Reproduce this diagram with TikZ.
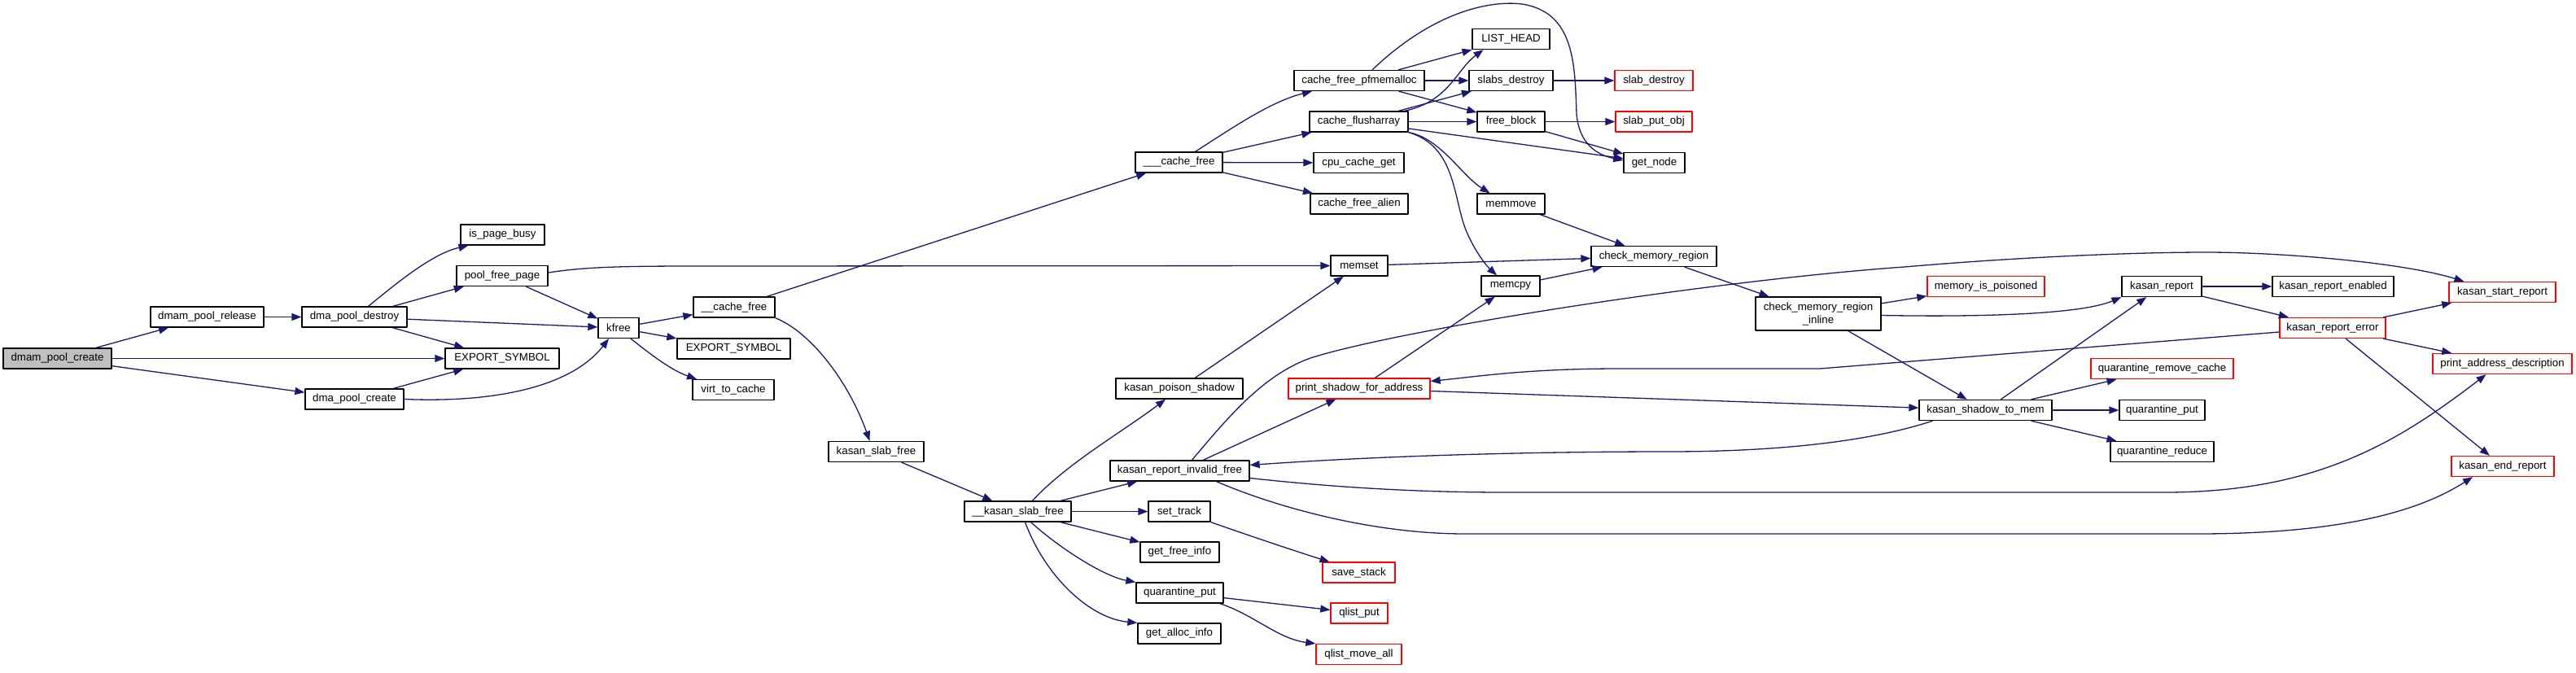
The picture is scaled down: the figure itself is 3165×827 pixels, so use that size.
\documentclass[tikz,border=0pt]{standalone}
\usepackage{fontspec}
\setmainfont{Liberation Sans}
\usetikzlibrary{arrows.meta}
\definecolor{edgeblue}{HTML}{191970}
\definecolor{rootgray}{HTML}{BFBFBF}

\begin{document}
\begin{tikzpicture}[x=1pt, y=-1pt, line join=round,
    fnbox/.style={draw=black, line width=1.3pt, inner sep=0pt, minimum height=25pt,
                  font=\fontsize{13.3}{16}\selectfont},
    cutbox/.style={fnbox, draw=red},
    callarr/.style={draw=edgeblue, line width=1.3pt,
                    -{Triangle[length=12pt, width=9pt]}, fill=none}]

  %% ════ 节点（中心坐标，像素系，y 向下）════
  \node[fnbox, fill=rootgray, minimum width=133pt] (dmamcreate) at (70.5,440.5) {dmam\_pool\_create};
  \node[fnbox, minimum width=139pt] (dmamrelease) at (254.5,389.5) {dmam\_pool\_release};
  \node[fnbox, minimum width=129pt] (dmadestroy) at (435.5,389.5) {dma\_pool\_destroy};
  \node[fnbox, minimum width=121pt] (dmacreate) at (435.5,490.5) {dma\_pool\_create};
  \node[fnbox, minimum width=103pt] (pagebusy) at (617.5,288.5) {is\_page\_busy};
  \node[fnbox, minimum width=112pt] (freepage) at (617,339) {pool\_free\_page};
  \node[fnbox, minimum width=140pt] (exportA) at (617,440.5) {EXPORT\_SYMBOL};
  \node[fnbox, minimum width=50pt] (kfree) at (760,403) {kfree};
  \node[fnbox, minimum width=100pt] (cachefreeB) at (902,377.5) {\_\_cache\_free};
  \node[fnbox, minimum width=139pt] (exportB) at (901.5,428.5) {EXPORT\_SYMBOL};
  \node[fnbox, minimum width=100pt] (virtcache) at (901,479) {virt\_to\_cache};
  \node[fnbox, minimum width=117pt] (kslabfree) at (1076.5,555) {kasan\_slab\_free};
  \node[fnbox, minimum width=107pt] (cachefreeA) at (1448.5,199.5) {\_\_\_cache\_free};
  \node[fnbox, minimum width=131pt] (kksfree) at (1250.5,628.5) {\_\_kasan\_slab\_free};

  % 第二列：slab 一侧
  \node[fnbox, minimum width=160pt] (pfmemalloc) at (1670,99) {cache\_free\_pfmemalloc};
  \node[fnbox, minimum width=121pt] (flusharray) at (1669.5,149.5) {cache\_flusharray};
  \node[fnbox, minimum width=111pt] (cpucache) at (1669.5,200) {cpu\_cache\_get};
  \node[fnbox, minimum width=120pt] (freealien) at (1670,250.5) {cache\_free\_alien};
  \node[fnbox, minimum width=70pt] (memset) at (1670,326.5) {memset};
  \node[cutbox, minimum width=174pt] (shadowaddr) at (1670,477.5) {print\_shadow\_for\_address};
  \node[cutbox, minimum width=89pt] (savestack) at (1669.5,703.5) {save\_stack};
  \node[cutbox, minimum width=70pt] (qlistput) at (1670,753.5) {qlist\_put};
  \node[cutbox, minimum width=105pt] (qlistmove) at (1669.5,804) {qlist\_move\_all};

  % kasan 一侧
  \node[fnbox, minimum width=156pt] (poison) at (1449,477.5) {kasan\_poison\_shadow};
  \node[fnbox, minimum width=171pt] (invalidfree) at (1449.5,578.5) {kasan\_report\_invalid\_free};
  \node[fnbox, minimum width=76pt] (settrack) at (1449,628.5) {set\_track};
  \node[fnbox, minimum width=97pt] (freeinfo) at (1449.5,678.5) {get\_free\_info};
  \node[fnbox, minimum width=107pt] (qputA) at (1449.5,728.5) {quarantine\_put};
  \node[fnbox, minimum width=102pt] (allocinfo) at (1449,778.5) {get\_alloc\_info};

  \node[fnbox, minimum width=95pt] (listhead) at (1856.5,48) {LIST\_HEAD};
  \node[fnbox, minimum width=103pt] (slabsdestroy) at (1856.5,99) {slabs\_destroy};
  \node[fnbox, minimum width=83pt] (freeblock) at (1856.5,149.5) {free\_block};
  \node[fnbox, minimum width=83pt] (memmove) at (1856.5,250.5) {memmove};
  \node[fnbox, minimum width=72pt] (memcpy) at (1856,351.5) {memcpy};

  \node[cutbox, minimum width=96pt] (slabdestroy) at (2032,99) {slab\_destroy};
  \node[cutbox, minimum width=94pt] (slabputobj) at (2032,149.5) {slab\_put\_obj};
  \node[fnbox, minimum width=75pt] (getnode) at (2032.5,200) {get\_node};
  \node[fnbox, minimum width=154pt] (checkregion) at (2032,315) {check\_memory\_region};
  \node[fnbox, minimum width=154pt, minimum height=41pt, align=center] (checkinline) at (2234,385.5)
       {check\_memory\_region\\\_inline};

  \node[cutbox, minimum width=144pt] (poisoned) at (2440,352) {memory\_is\_poisoned};
  \node[fnbox, minimum width=163pt] (shadowtomem) at (2439.5,504) {kasan\_shadow\_to\_mem};
  \node[fnbox, minimum width=98pt] (kreport) at (2656,352) {kasan\_report};
  \node[cutbox, minimum width=175pt] (qremove) at (2656.5,453) {quarantine\_remove\_cache};
  \node[fnbox, minimum width=105pt] (qputB) at (2656.5,504) {quarantine\_put};
  \node[fnbox, minimum width=127pt] (qreduce) at (2656.5,555) {quarantine\_reduce};
  \node[fnbox, minimum width=149pt] (reportenabled) at (2866.5,352) {kasan\_report\_enabled};
  \node[cutbox, minimum width=130pt] (reporterror) at (2866,403) {kasan\_report\_error};
  \node[cutbox, minimum width=131pt] (startreport) at (3074.5,359) {kasan\_start\_report};
  \node[cutbox, minimum width=171pt] (addrdesc) at (3074.5,447) {print\_address\_description};
  \node[cutbox, minimum width=126pt] (endreport) at (3075,573) {kasan\_end\_report};

  %% ════ 调用边：dma pool 部分 ════
  \draw[callarr] (dmamcreate) -- (dmamrelease);
  \draw[callarr] (dmamcreate) -- (exportA);
  \draw[callarr] (dmamcreate) -- (dmacreate);
  \draw[callarr] (dmamrelease) -- (dmadestroy);
  \draw[callarr] ([xshift=17pt]dmadestroy.north) .. controls (485,350) and (530,312) .. ([xshift=-42pt]pagebusy.south);
  \draw[callarr] (dmadestroy) -- (freepage);
  \draw[callarr] (dmadestroy) -- (exportA);
  \draw[callarr] (dmadestroy) -- (kfree);
  \draw[callarr] (dmacreate) -- (exportA);
  \draw[callarr] (dmacreate.east) .. controls (600,495) and (700,478) .. ([xshift=-12pt]kfree.south);
  \draw[callarr] (freepage) -- (kfree);
  \draw[callarr] ([yshift=4pt]freepage.east) .. controls (720,328) and (760,327) .. (860,327) -- (memset);

  %% ════ kfree / __cache_free ════
  \draw[callarr] (kfree) -- (cachefreeB);
  \draw[callarr] (kfree) -- (exportB);
  \draw[callarr] ([xshift=15pt]kfree.south) .. controls (800,436) and (825,455) .. ([xshift=-45pt]virtcache.north);
  \draw[callarr] (cachefreeB) -- (cachefreeA);
  \draw[callarr] (cachefreeB.south east) .. controls (1000,410) and (1045,475) .. ([xshift=-8pt]kslabfree.north);
  \draw[callarr] (kslabfree) -- (kksfree);

  %% ════ ___cache_free 及 slab 分支 ════
  \draw[callarr] ([xshift=20pt]cachefreeA.north) .. controls (1510,160) and (1560,125) .. ([xshift=-58pt]pfmemalloc.south);
  \draw[callarr] (cachefreeA) -- (flusharray);
  \draw[callarr] (cachefreeA) -- (cpucache);
  \draw[callarr] (cachefreeA) -- (freealien);
  \draw[callarr] (pfmemalloc) -- (listhead);
  \draw[callarr] (pfmemalloc) -- (slabsdestroy);
  \draw[callarr] (pfmemalloc) -- (freeblock);
  % 顶上那条大弧，绕过 LIST_HEAD 落到 get_node
  \draw[callarr] ([xshift=16pt]pfmemalloc.north) .. controls (1760,15) and (1830,0) .. (1870,5)
       .. controls (1935,15) and (1935,80) .. (1937,140) .. controls (1940,175) and (1960,190) .. ([yshift=3pt]getnode.west);
  \draw[callarr] ([xshift=-5pt]flusharray.north east) .. controls (1780,125) and (1790,85) .. ([xshift=-34pt]listhead.south);
  \draw[callarr] (flusharray) -- (slabsdestroy);
  \draw[callarr] (flusharray) -- (freeblock);
  \draw[callarr] (flusharray) -- (getnode);
  \draw[callarr] (flusharray.south east) .. controls (1770,170) and (1795,215) .. ([xshift=-26pt]memmove.north);
  \draw[callarr] (flusharray.south east) .. controls (1790,180) and (1785,245) .. (1802,285)
       .. controls (1815,315) and (1830,330) .. ([xshift=-17pt]memcpy.north);
  \draw[callarr] (slabsdestroy) -- (slabdestroy);
  \draw[callarr] (freeblock) -- (slabputobj);
  \draw[callarr] (freeblock) -- (getnode);

  %% ════ check_memory_region → kasan_report ════
  \draw[callarr] (memmove) -- (checkregion);
  \draw[callarr] (memset) -- (checkregion);
  \draw[callarr] (memcpy) -- (checkregion);
  \draw[callarr] (checkregion) -- (checkinline);
  \draw[callarr] (checkinline) -- (poisoned);
  \draw[callarr] ([yshift=-2pt]checkinline.east) .. controls (2450,390) and (2560,385) .. (kreport.south west);
  \draw[callarr] (checkinline) -- (shadowtomem);
  \draw[callarr] (kreport) -- (reportenabled);
  \draw[callarr] (kreport) -- (reporterror);
  \draw[callarr] (reporterror) -- (startreport);
  \draw[callarr] (reporterror) -- (addrdesc);
  \draw[callarr] (reporterror) -- (endreport);
  \draw[callarr] ([yshift=-5pt]reporterror.west) -- (2236,453) .. controls (2180,453) and (2060,453) .. (1990,453)
       .. controls (1880,453) and (1820,462) .. ([yshift=9pt]shadowaddr.east);
  \draw[callarr] (shadowaddr) -- (memcpy);
  \draw[callarr] (shadowaddr) -- (shadowtomem);
  \draw[callarr] (shadowtomem) -- (kreport);
  \draw[callarr] (shadowtomem) -- (qremove);
  \draw[callarr] (shadowtomem) -- (qputB);
  \draw[callarr] (shadowtomem) -- (qreduce);
  \draw[callarr] ([xshift=-65pt]shadowtomem.south) .. controls (2290,545) and (2170,555) .. (2050,555)
       .. controls (1880,555) and (1700,560) .. ([yshift=7pt]invalidfree.east);

  %% ════ kasan_report_invalid_free 的三条长边 ════
  \draw[callarr] ([xshift=15pt]invalidfree.north) .. controls (1515,505) and (1555,460) .. (1610,440)
       .. controls (1720,405) and (2100,345) .. (2340,328) .. controls (2480,316) and (2620,310) .. (2711,310)
       .. controls (2800,310) and (2950,322) .. ([xshift=-47pt]startreport.north);
  \draw[callarr] (invalidfree) -- (shadowaddr);
  \draw[callarr] ([yshift=-9pt]invalidfree.east) .. controls (1650,600) and (1750,605) .. (1850,605) -- (2660,605)
       .. controls (2850,605) and (2950,540) .. ([xshift=-20pt]addrdesc.south);
  \draw[callarr] ([xshift=45pt]invalidfree.south) .. controls (1560,620) and (1680,656) .. (1800,656) -- (2700,656)
       .. controls (2900,656) and (2985,620) .. ([xshift=-37pt]endreport.south);

  %% ════ __kasan_slab_free ════
  \draw[callarr] ([xshift=18pt]kksfree.north) .. controls (1310,570) and (1380,530) .. ([xshift=-17pt]poison.south);
  \draw[callarr] (kksfree) -- (invalidfree);
  \draw[callarr] (kksfree) -- (settrack);
  \draw[callarr] (kksfree) -- (freeinfo);
  \draw[callarr] ([xshift=16pt]kksfree.south) .. controls (1300,672) and (1355,708) .. (qputA.north west);
  \draw[callarr] ([xshift=9pt]kksfree.south) .. controls (1285,710) and (1340,760) .. (allocinfo.north west);
  \draw[callarr] (poison) -- (memset);
  \draw[callarr] (settrack.south east) .. controls (1540,660) and (1600,680) .. ([xshift=-36pt]savestack.north);
  \draw[callarr] (qputA) -- (qlistput);
  \draw[callarr] ([xshift=-5pt]qputA.south east) .. controls (1540,755) and (1570,785) .. (qlistmove.north west);

  % 钉死画布
  \pgfresetboundingbox
  \path[use as bounding box] (0,0) rectangle (3165,827);
\end{tikzpicture}
\end{document}
